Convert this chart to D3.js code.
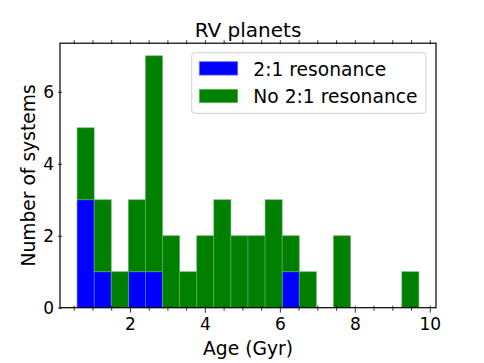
<!DOCTYPE html>
<html>
<head>
<meta charset="utf-8">
<script src="https://cdn.jsdelivr.net/npm/d3@7"></script>
<style>
  html, body { margin: 0; padding: 0; background: #fff; }
  svg { display: block; font-family: "DejaVu Sans", sans-serif; }
</style>
</head>
<body>
<svg id="chart" width="484" height="363"></svg>
<script>
// ---- data ----
const binEdges = [0.590, 1.046, 1.502, 1.958, 2.414, 2.870, 3.326, 3.782, 4.238, 4.694,
                  5.150, 5.606, 6.062, 6.518, 6.974, 7.430, 7.886, 8.342, 8.798, 9.254, 9.710];
const resonanceCounts   = [3, 1, 0, 1, 1, 0, 0, 0, 0, 0, 0, 0, 1, 0, 0, 0, 0, 0, 0, 0];
const noResonanceCounts = [2, 2, 1, 2, 6, 2, 1, 2, 3, 2, 2, 3, 1, 1, 0, 2, 0, 0, 0, 1];
const seriesNames = ["2:1 resonance", "No 2:1 resonance"];
const seriesColors = ["#0000ff", "#008000"];
const xTickValues = [2, 4, 6, 8, 10];
const yTickValues = [0, 2, 4, 6];
const titleText = "RV planets";
const xLabel = "Age (Gyr)";
const yLabel = "Number of systems";

// ---- layout ----
const svg = d3.select("#chart");
const L = 60, R = 436, T = 43.2, B = 307.7;
const span = binEdges[binEdges.length - 1] - binEdges[0];
const x = d3.scaleLinear()
  .domain([binEdges[0] - 0.05 * span, binEdges[binEdges.length - 1] + 0.05 * span])
  .range([L, R]);
const totals = resonanceCounts.map((v, i) => v + noResonanceCounts[i]);
const y = d3.scaleLinear().domain([0, d3.max(totals) * 1.05]).range([B, T]);

// ---- bars (stacked) ----
const bins = resonanceCounts.map((v, i) => ({
  x0: binEdges[i], x1: binEdges[i + 1], a: v, b: noResonanceCounts[i]
}));
const g = svg.append("g");
const layers = [
  { key: "a", base: d => 0, val: d => d.a, color: seriesColors[0], edge: "#6f6fff" },
  { key: "b", base: d => d.a, val: d => d.b, color: seriesColors[1], edge: "#66b366" }
];
layers.forEach(layer => {
  g.selectAll(null)
    .data(bins.filter(d => layer.val(d) > 0))
    .enter().append("rect")
    .attr("x", d => x(d.x0))
    .attr("width", d => x(d.x1) - x(d.x0))
    .attr("y", d => y(layer.base(d) + layer.val(d)))
    .attr("height", d => y(layer.base(d)) - y(layer.base(d) + layer.val(d)))
    .attr("fill", layer.color)
    .attr("stroke", layer.edge)
    .attr("stroke-width", 0.8)
    .attr("stroke-opacity", 0.7);
});

// ---- frame ----
svg.append("rect").attr("x", L).attr("y", T).attr("width", R - L).attr("height", B - T)
  .attr("fill", "none").attr("stroke", "#000").attr("stroke-width", 1.2);

// ---- ticks ----
const minorX = d3.range(0.5, 10.01, 0.5).filter(v => x(v) >= L && x(v) <= R);
// bottom axis
const xAxis = d3.axisBottom(x).tickValues(minorX).tickSize(4).tickFormat(d => xTickValues.includes(d) ? d : "");
const gx = svg.append("g").attr("transform", `translate(0,${B})`).call(xAxis);
gx.select(".domain").remove();
gx.selectAll(".tick line").attr("stroke", "#000").attr("stroke-width", 0.8)
  .attr("y1", -2).attr("y2", d => xTickValues.includes(d) ? 5 : 3);
gx.selectAll(".tick text").attr("font-size", 17).attr("fill", "#000")
  .attr("font-family", "DejaVu Sans").attr("y", 10).attr("dy", "0.71em");
// top ticks
const xTop = d3.axisTop(x).tickValues(minorX).tickSize(3).tickFormat("");
const gt = svg.append("g").attr("transform", `translate(0,${T})`).call(xTop);
gt.select(".domain").remove();
gt.selectAll(".tick line").attr("stroke", "#000").attr("stroke-width", 0.8).attr("y1", 1);
// left axis
const yAxis = d3.axisLeft(y).tickValues(yTickValues).tickSize(3).tickFormat(d3.format("d"));
const gy = svg.append("g").attr("transform", `translate(${L},0)`).call(yAxis);
gy.select(".domain").remove();
gy.selectAll(".tick line").attr("stroke", "#000").attr("stroke-width", 0.8).attr("x2", 2).attr("x1", -2);
gy.selectAll(".tick text").attr("font-size", 17).attr("fill", "#000")
  .attr("font-family", "DejaVu Sans").attr("x", -6).attr("dy", "0.36em");

// ---- title & labels ----
svg.append("text").attr("x", (L + R) / 2).attr("y", 37).attr("text-anchor", "middle")
  .attr("font-size", 20).text(titleText);
svg.append("text").attr("x", (L + R) / 2).attr("y", 355).attr("text-anchor", "middle")
  .attr("font-size", 18.7).text(xLabel);
svg.append("text").attr("transform", `translate(34.5,${(T + B) / 2}) rotate(-90)`)
  .attr("text-anchor", "middle").attr("font-size", 18.7).text(yLabel);

// ---- legend ----
const lg = svg.append("g");
lg.append("rect").attr("x", 191.7).attr("y", 52.7).attr("width", 234.3).attr("height", 60.6)
  .attr("rx", 3).attr("fill", "#fff").attr("fill-opacity", 0.8)
  .attr("stroke", "#d0d0d0").attr("stroke-width", 1);
seriesNames.forEach((name, i) => {
  const yy = 61.7 + i * 27.6;
  lg.append("rect").attr("x", 199.3).attr("y", yy).attr("width", 38.4).attr("height", 13.4)
    .attr("fill", seriesColors[i]).attr("stroke", layers[i].edge).attr("stroke-width", 0.8);
  lg.append("text").attr("x", 253.3).attr("y", yy + 13.8).attr("font-size", 18.7).text(name);
});
</script>
</body>
</html>
